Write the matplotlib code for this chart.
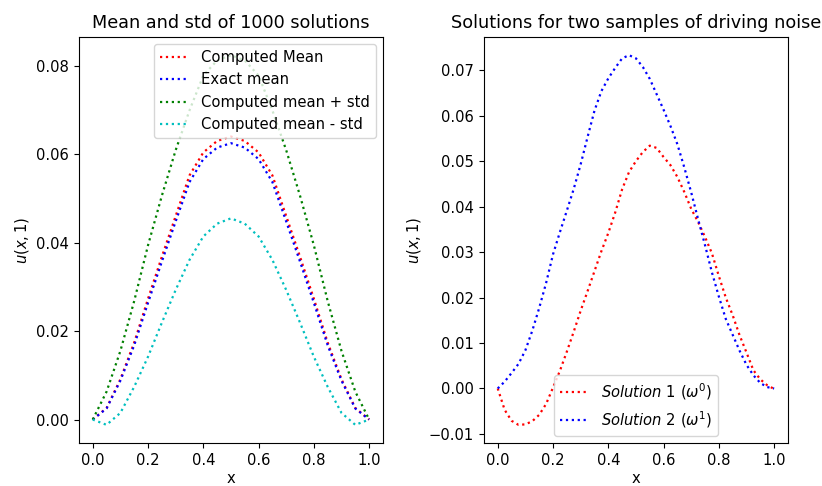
import matplotlib
matplotlib.use("Agg")
import matplotlib.pyplot as plt

plt.rcParams["font.size"] = 10.6
plt.rcParams["lines.linewidth"] = 1.6

# left panel: mean and std of 1000 solutions, sampled at x = 0, 0.05, ..., 1
x_left = [0.0, 0.05, 0.1, 0.15, 0.2, 0.25, 0.3, 0.35, 0.4, 0.45, 0.5,
          0.55, 0.6, 0.65, 0.7, 0.75, 0.8, 0.85, 0.9, 0.95, 1.0]
computed_mean = [0.0, 0.0026, 0.0091, 0.0174, 0.0273, 0.0368, 0.0460, 0.0552, 0.0604, 0.0630, 0.0640,
                 0.0630, 0.0604, 0.0552, 0.0460, 0.0368, 0.0273, 0.0174, 0.0091, 0.0026, 0.0]
exact_mean = [0.0, 0.0025, 0.0088, 0.0168, 0.0264, 0.0357, 0.0448, 0.0537, 0.0589, 0.0615, 0.0625,
              0.0615, 0.0589, 0.0537, 0.0448, 0.0357, 0.0264, 0.0168, 0.0088, 0.0025, 0.0]
mean_plus_std = [0.0, 0.0063, 0.0155, 0.0268, 0.0394, 0.0506, 0.0609, 0.0699, 0.0778, 0.0812, 0.0824,
                 0.0812, 0.0778, 0.0699, 0.0609, 0.0506, 0.0394, 0.0268, 0.0155, 0.0063, 0.0]
mean_minus_std = [0.0, -0.0012, 0.0015, 0.0074, 0.0142, 0.0219, 0.0293, 0.0361, 0.0414, 0.0443, 0.0455,
                  0.0443, 0.0414, 0.0361, 0.0293, 0.0219, 0.0142, 0.0074, 0.0015, -0.0012, 0.0]

# right panel: two samples, x = 0, 0.025, ..., 1
x_right = [0.0, 0.025, 0.05, 0.075, 0.1, 0.125, 0.15, 0.175, 0.2, 0.225,
           0.25, 0.275, 0.3, 0.325, 0.35, 0.375, 0.4, 0.425, 0.45, 0.475,
           0.5, 0.525, 0.55, 0.575, 0.6, 0.625, 0.65, 0.675, 0.7, 0.725,
           0.75, 0.775, 0.8, 0.825, 0.85, 0.875, 0.9, 0.925, 0.95, 0.975, 1.0]
solution1 = [0.0, -0.0047, -0.0071, -0.0080, -0.0079, -0.0072, -0.0058, -0.0034, 0.0002, 0.0039,
             0.0081, 0.0125, 0.0171, 0.0214, 0.0258, 0.0302, 0.0342, 0.0387, 0.0438, 0.0476,
             0.0500, 0.0520, 0.0534, 0.0529, 0.0509, 0.0491, 0.0465, 0.0432, 0.0395, 0.0366,
             0.0333, 0.0297, 0.0247, 0.0200, 0.0161, 0.0117, 0.0079, 0.0040, 0.0020, 0.0007, -0.0001]
solution2 = [0.0, 0.0015, 0.0034, 0.0054, 0.0084, 0.0127, 0.0177, 0.0232, 0.0295, 0.0344,
             0.0391, 0.0439, 0.0493, 0.0553, 0.0611, 0.0654, 0.0682, 0.0705, 0.0726, 0.0733,
             0.0726, 0.0707, 0.0681, 0.0647, 0.0613, 0.0577, 0.0537, 0.0486, 0.0431, 0.0372,
             0.0315, 0.0255, 0.0202, 0.0153, 0.0118, 0.0083, 0.0052, 0.0029, 0.0012, 0.0003, 0.0]

fig, (ax1, ax2) = plt.subplots(1, 2, figsize=(8.22, 4.86), dpi=100)
fig.subplots_adjust(left=0.096, right=0.9586, top=0.9245, bottom=0.0878, wspace=0.332)

ax1.plot(x_left, computed_mean, "r:", label="Computed Mean")
ax1.plot(x_left, exact_mean, "b:", label="Exact mean")
ax1.plot(x_left, mean_plus_std, "g:", label="Computed mean + std")
ax1.plot(x_left, mean_minus_std, "c:", label="Computed mean - std")
ax1.set_title("Mean and std of 1000 solutions")
ax1.set_xlabel("x", labelpad=2)
ax1.set_ylabel("$u(x, 1)$")
ax1.legend(loc="upper right")

ax2.plot(x_right, solution1, "r:", label=r"$Solution\ 1\ (\omega^0)$")
ax2.plot(x_right, solution2, "b:", label=r"$Solution\ 2\ (\omega^1)$")
ax2.set_title("Solutions for two samples of driving noise")
ax2.set_xlabel("x", labelpad=2)
ax2.set_ylabel("$u(x, 1)$")
ax2.legend(loc="lower center")

fig.savefig("out.png", dpi=100)
